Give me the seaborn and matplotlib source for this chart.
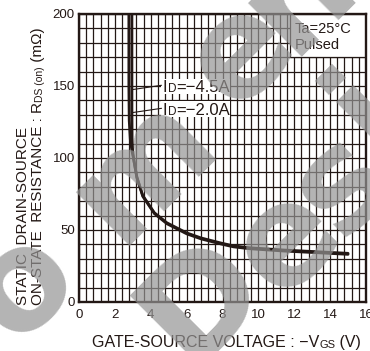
"""RDS(on) vs VGS datasheet chart, redrawn with seaborn."""

import matplotlib
matplotlib.use("Agg")
import matplotlib.pyplot as plt
from matplotlib.patches import Rectangle
from matplotlib.ticker import MultipleLocator
import pandas as pd
import seaborn as sns

# values: gate-source voltage (V) and RDS(on) (mOhm)
vgs_45 = [2.78, 2.78, 2.80, 2.86, 2.95, 3.06, 3.22, 3.55, 4.20, 4.90, 6.00, 6.80, 7.90, 8.60, 9.50, 11.40, 13.30, 15.00]
rds_45 = [200, 150, 126, 113, 105, 98.5, 87, 74, 62, 55, 48, 44.5, 41, 39, 37.7, 36.1, 34.9, 33.8]
vgs_20 = [2.95, 2.95, 2.96, 2.99, 3.06, 3.23, 3.56, 4.21, 4.91, 6.01, 6.81, 7.91, 8.61, 9.51, 11.41, 13.31, 15.00]
rds_20 = [200, 135, 114, 105, 98, 86.3, 73.3, 61.3, 54.3, 47.3, 43.8, 40.3, 38.3, 37.0, 35.4, 34.2, 33.1]
x_ticks = [0, 2, 4, 6, 8, 10, 12, 14, 16]
y_ticks = [0, 50, 100, 150, 200]

INK = "#231815"
W, H = 370, 351

sns.set_theme(style="white")
plt.rcParams["font.family"] = ["Liberation Sans", "DejaVu Sans"]

df = pd.concat([
    pd.DataFrame({"vgs": vgs_45, "rds": rds_45, "id": "-4.5A"}),
    pd.DataFrame({"vgs": vgs_20, "rds": rds_20, "id": "-2.0A"}),
], ignore_index=True)

fig = plt.figure(figsize=(W / 100, H / 100), dpi=100)
ax = fig.add_axes([79 / W, 1 - 302 / H, 287 / W, 288 / H])


def px(x, y):
    return x / W, 1 - y / H


sns.lineplot(data=df, x="vgs", y="rds", hue="id", palette={"-4.5A": INK, "-2.0A": INK},
             estimator=None, sort=False, linewidth=2.0, legend=False, ax=ax, zorder=3)

ax.set_xlim(0, 16)
ax.set_ylim(0, 200)
ax.set_xticks(x_ticks)
ax.set_yticks(y_ticks)
ax.xaxis.set_minor_locator(MultipleLocator(0.4))
ax.yaxis.set_minor_locator(MultipleLocator(10))
ax.grid(which="both", color=INK, linewidth=0.9)
ax.tick_params(which="both", length=0, labelsize=9.5, labelcolor=INK)
ax.tick_params(axis="x", pad=5)
ax.tick_params(axis="y", pad=3)
ax.set_xlabel("")
ax.set_ylabel("")
for sp in ax.spines.values():
    sp.set_color(INK)
    sp.set_linewidth(1.7)
    sp.set_zorder(5)

# condition box, top right
ax.add_patch(Rectangle((11.76, 170), 4.24, 30, facecolor="white", edgecolor=INK, linewidth=0.9, zorder=4))
ax.text(12.04, 186.8, "Ta=25°C", fontsize=10.5, color=INK, va="baseline", zorder=6)
ax.text(12.04, 175.7, "Pulsed", fontsize=10.5, color=INK, va="baseline", zorder=6)


def chain(first, parts, vertical=False):
    """Append text pieces after `first`, bottoms (or right edges) lined up."""
    t = first
    for s, size in parts:
        if vertical:
            t = ax.annotate(s, xy=(1, 1), xycoords=t, ha="right", va="bottom", rotation=90,
                            fontsize=size, color=INK, zorder=6)
        else:
            t = ax.annotate(s, xy=(1, 0), xycoords=t, ha="left", va="bottom",
                            fontsize=size, color=INK, zorder=6)
    return t


# current labels on white patches, with leader lines to the curves
for label, y_base, y_lead, x_end, y_box in [("=−4.5A", 145.8, 150.5, 2.98, 144.4),
                                            ("=−2.0A", 129.9, 134.5, 2.96, 128.5)]:
    ax.add_patch(Rectangle((4.57, y_box), 3.85, 10.8, facecolor="white", edgecolor="none", zorder=4))
    t = ax.text(4.68, y_base, "I", fontsize=12, color=INK, va="baseline", zorder=6)
    chain(t, [("D", 8.5), (label, 12)])
    ax.annotate("", xy=(x_end, y_lead - 3), xytext=(4.6, y_lead),
                arrowprops=dict(arrowstyle="-", color=INK, lw=0.8, shrinkA=0, shrinkB=0), zorder=6)

# axis titles, small letters kept on the baseline as in the datasheet
xl = fig.text(*px(92, 350), "GATE-SOURCE VOLTAGE : −V", fontsize=11.5, color=INK, ha="left", va="bottom")
chain(xl, [("GS", 8), (" (V)", 11.5)])
fig.text(*px(30, 305), "STATIC  DRAIN-SOURCE", fontsize=11, color=INK, ha="right", va="bottom", rotation=90)
yl = fig.text(*px(45, 305), "ON-STATE  RESISTANCE : R", fontsize=11, color=INK, ha="right", va="bottom", rotation=90)
chain(yl, [("DS (on)", 7.5), (" (mΩ)", 11)], vertical=True)

# grey watermark lettering across the chart
for ch, x, y in [("o", 22, 285), ("m", 142, 168), ("e", 241, 52), ("n", 298, -5),
                 ("D", 203, 300), ("e", 287, 240), ("s", 342, 183), ("i", 368, 112)]:
    fig.text(*px(x, y), ch, fontsize=100, fontweight="bold", family="DejaVu Sans",
             color="#949494", alpha=0.7, rotation=45, rotation_mode="anchor",
             ha="center", va="center", zorder=10)

fig.savefig("out.png", dpi=100)
